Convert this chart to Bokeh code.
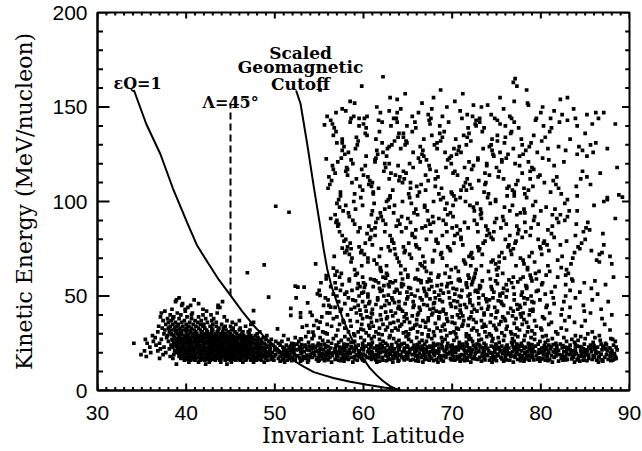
from bokeh.plotting import figure
from bokeh.models import Range1d, FixedTicker, Label
from bokeh.embed import file_html
from bokeh.resources import INLINE

# ---------------- data ----------------
x_ticks = [30, 40, 50, 60, 70, 80, 90]
y_ticks = [0, 50, 100, 150, 200]

# eps*Q = 1 curve (invariant latitude, kinetic energy)
epsq_lat = [34.1, 35.5, 37.1, 38.5, 40.1, 41.2, 42.4, 43.7, 45.0, 46.3, 47.6, 48.8, 49.9,
            51.0, 52.1, 53.3, 54.4, 55.6, 56.6, 58.5, 60.4, 62.3, 64.2]
epsq_E = [159, 141, 125, 107, 89, 77, 68, 58.5, 50.3, 42, 34.4, 28.5, 23.8,
          19.5, 15.9, 12.5, 9.7, 8.0, 6.6, 4.6, 3.0, 1.6, 0.3]

# scaled geomagnetic cutoff curve
cut_lat = [52.4, 52.9, 53.65, 54.4, 55.1, 55.5, 55.9, 56.4, 57.0, 57.7, 58.5, 59.2, 60.0,
           60.7, 61.5, 62.2, 63.0, 63.6, 64.2]
cut_E = [158.7, 151.7, 130.5, 107.6, 87.3, 75, 64.4, 55, 46.7, 37.5, 29.1, 22.5, 16.8,
         12.0, 8.0, 5.0, 2.3, 1.0, 0.3]

# Lambda = 45 deg marker line
lam_lat = [45.0, 45.0]
lam_E = [50.3, 152.0]

# low-latitude cluster: (energy, [latitudes])
core_rows = [
    (49, [39.2]), (48, [38.9, 40.9]), (47, [38.8, 44.1]), (46, [39.6, 41.4]),
    (45, [39.5, 40.5, 43.6]), (44, [40.2, 43.8]), (43, [38.4, 39.9, 41.9]),
    (42, [37.6, 39.9, 42.3]), (41, [37.2, 39.0, 40.7, 43.5]),
    (40, [38.2, 39.4, 40.6, 41.9, 42.8]), (39, [37.1, 38.6, 40.1, 41.4, 44.3]),
    (38, [37.9, 38.5, 39.2, 40.6, 42.2, 43.1]),
    (37, [37.4, 38.3, 39.8, 41.0, 41.7, 42.9, 44.6, 46.0]),
    (36, [38.0, 38.8, 39.5, 40.4, 41.3, 42.4, 43.4, 45.2]),
    (35, [37.7, 38.5, 39.1, 40.0, 40.8, 41.6, 42.0, 43.0, 44.0, 45.6, 47.3]),
    (34, [36.9, 38.2, 38.9, 39.6, 40.3, 41.1, 41.9, 42.7, 43.4, 44.4, 45.0, 46.7]),
    (33, [37.3, 38.0, 38.7, 39.3, 40.0, 40.6, 41.4, 42.1, 42.9, 43.7, 44.2, 45.3, 46.1]),
    (32, [37.6, 38.4, 39.0, 39.7, 40.2, 40.9, 41.6, 42.3, 43.0, 43.6, 44.5, 45.1, 46.0, 47.2]),
    (31, [36.8, 38.1, 38.8, 39.4, 40.0, 40.5, 41.1, 41.8, 42.4, 42.9, 43.5, 44.1, 44.8, 45.5,
          46.4, 47.0, 48.3]),
    (30, [37.5, 38.3, 39.0, 39.5, 40.1, 40.7, 41.2, 41.7, 42.2, 42.8, 43.3, 43.9, 44.4, 45.0,
          45.7, 46.3, 47.1, 48.0]),
    (29.5, [38.4, 39.4, 40.2, 41.0, 41.8, 42.6, 43.4, 44.2, 45.0, 46.2]),
    (29, [36.2, 37.9, 38.6, 39.2, 39.8, 40.3, 40.8, 41.4, 41.9, 42.5, 43.0, 43.6, 44.1, 44.7,
          45.2, 45.9, 46.5, 47.3, 47.8, 49.1]),
    (28.5, [39.2, 40.0, 40.8, 41.6, 42.3, 43.1, 43.8, 44.5, 45.3, 46.1, 46.9]),
    (28, [36.5, 37.8, 38.7, 39.3, 39.9, 40.4, 40.9, 41.3, 41.9, 42.3, 42.7, 43.2, 43.8, 44.3,
          44.6, 45.1, 45.6, 46.0, 46.6, 47.0, 47.5, 48.1, 48.7]),
    (27.5, [38.8, 39.6, 40.4, 41.2, 41.9, 42.7, 43.4, 44.2, 44.9, 45.7, 46.5, 47.4]),
    (27, [35.4, 37.2, 38.4, 39.1, 39.6, 40.1, 40.5, 41.0, 41.5, 41.8, 42.4, 42.9, 43.3, 43.7,
          44.2, 44.8, 45.2, 45.8, 46.2, 46.7, 47.3, 47.7, 48.4, 49.0, 49.6]),
    (26.5, [38.5, 39.5, 40.2, 41.0, 41.7, 42.5, 43.2, 44.0, 44.7, 45.5, 46.3, 47.1, 48.0]),
    (26, [36.3, 38.0, 38.9, 39.4, 39.9, 40.3, 40.7, 41.2, 41.6, 42.1, 42.5, 43.0, 43.5, 43.9,
          44.4, 44.9, 45.3, 45.7, 46.4, 46.9, 47.4, 47.9, 48.5, 49.3, 50.1]),
    (25.5, [39.0, 39.8, 40.6, 41.3, 42.1, 42.8, 43.6, 44.3, 45.1, 45.8, 46.6, 47.4, 48.5]),
    (25, [34.1, 35.6, 37.0, 38.6, 39.2, 39.7, 40.0, 40.5, 41.0, 41.3, 41.9, 42.3, 42.8, 43.2,
          43.7, 44.1, 44.6, 45.0, 45.5, 46.0, 46.5, 47.1, 47.6, 48.2, 48.8, 49.5, 50.4]),
    (24.5, [38.7, 39.6, 40.4, 41.1, 41.9, 42.6, 43.3, 44.1, 44.8, 45.6, 46.3, 47.0, 47.9]),
    (24, [36.6, 38.3, 39.0, 39.5, 40.2, 40.6, 41.1, 41.5, 42.0, 42.6, 43.0, 43.4, 43.9, 44.3,
          44.8, 45.3, 45.8, 46.2, 46.7, 47.2, 47.8, 48.4, 49.0, 49.8, 50.6, 51.3]),
    (23.5, [38.9, 39.7, 40.5, 41.3, 42.0, 42.8, 43.5, 44.2, 45.0, 45.7, 46.5, 47.3, 48.1, 49.4]),
    (23, [35.9, 37.5, 38.5, 39.3, 39.8, 40.3, 40.8, 41.3, 41.7, 42.2, 42.7, 43.1, 43.6, 44.0,
          44.5, 44.9, 45.4, 45.9, 46.3, 46.8, 47.4, 47.9, 48.6, 49.2, 50.0, 50.9, 51.7]),
    (22.5, [39.4, 40.2, 40.9, 41.6, 42.4, 43.1, 43.9, 44.6, 45.4, 46.1, 46.9, 47.6, 48.8]),
    (22, [37.1, 38.1, 39.0, 39.6, 40.1, 40.6, 41.0, 41.6, 42.1, 42.5, 43.0, 43.5, 43.9, 44.4,
          44.9, 45.3, 45.7, 46.2, 46.6, 47.1, 47.7, 48.3, 48.9, 49.5, 50.2, 51.1, 52.0]),
    (21.5, [39.1, 39.9, 40.6, 41.4, 42.1, 42.9, 43.5, 44.3, 45.0, 45.8, 46.5, 47.2, 48.3, 50.0]),
    (21, [35.3, 36.8, 38.7, 39.4, 39.9, 40.4, 40.9, 41.4, 41.8, 42.3, 42.8, 43.3, 43.7, 44.2,
          44.7, 45.1, 45.6, 46.1, 46.5, 47.0, 47.5, 48.0, 48.7, 49.4, 50.3, 51.0, 51.8]),
    (20.5, [39.3, 40.0, 40.9, 41.5, 42.4, 43.0, 43.8, 44.6, 45.3, 46.0, 46.8, 47.5, 48.2, 49.0]),
    (20, [36.0, 37.7, 38.9, 39.7, 40.2, 40.7, 41.2, 41.7, 42.2, 42.6, 43.1, 43.6, 44.0, 44.5,
          45.0, 45.4, 45.9, 46.4, 46.9, 47.3, 47.8, 48.5, 49.1, 49.7, 50.5, 51.4]),
    (19.5, [39.2, 40.1, 40.8, 41.6, 42.3, 43.0, 43.6, 44.4, 45.1, 45.9, 46.6, 47.4, 48.1, 49.2]),
    (19, [34.9, 37.4, 38.6, 39.5, 40.0, 40.5, 41.0, 41.5, 41.9, 42.4, 42.9, 43.4, 43.8, 44.3,
          44.8, 45.2, 45.7, 46.2, 46.7, 47.2, 47.6, 48.2, 48.8, 49.5, 50.1, 50.8, 51.6]),
    (18.5, [39.5, 40.3, 41.0, 41.8, 42.5, 43.2, 43.9, 44.5, 45.4, 46.1, 46.9, 47.6, 48.4, 49.5]),
    (18, [35.5, 38.2, 39.2, 39.9, 40.4, 40.8, 41.3, 41.8, 42.3, 42.7, 43.2, 43.7, 44.1, 44.6,
          45.1, 45.5, 46.0, 46.5, 47.0, 47.5, 48.0, 48.6, 49.2, 49.9, 50.6]),
    (17.5, [39.7, 40.4, 41.2, 41.9, 42.6, 43.4, 44.0, 44.7, 45.5, 46.2, 47.0, 47.7, 48.9]),
    (17, [37.0, 38.5, 39.4, 40.1, 40.6, 41.1, 41.6, 42.0, 42.5, 43.0, 43.5, 43.9, 44.4, 44.9,
          45.3, 45.8, 46.3, 46.8, 47.3, 47.9, 48.4, 49.0, 49.7, 50.4]),
    (16.5, [40.2, 40.9, 41.7, 42.4, 43.1, 43.9, 44.6, 45.2, 46.0, 46.8, 47.5, 48.3, 49.6]),
    (16, [39.8, 40.5, 41.0, 41.6, 42.1, 42.7, 43.3, 43.8, 44.4, 45.0, 45.6, 46.1, 46.7, 47.3,
          47.9, 48.5, 49.2]),
    (15, [40.3, 41.4, 42.6, 43.9, 45.1, 46.4, 47.6, 48.8]),
    (14, [38.9, 42.2, 44.6]),
]

# dense low-energy band at higher latitudes
band_rows = [
    (28.5, [53.5, 57.9, 61.2, 64.8, 67.3, 71.6, 73.9, 77.4, 80.2, 84.5]),
    (28, [52.3, 55.1, 59.7, 62.9, 66.0, 68.8, 70.5, 75.2, 78.9, 82.6, 86.1]),
    (27.5, [54.2, 56.6, 60.9, 63.4, 67.7, 72.1, 74.6, 76.8, 81.3, 85.0, 87.9]),
    (27, [51.5, 53.0, 58.3, 61.8, 65.1, 69.2, 71.9, 73.3, 79.3, 83.5, 88.1]),
    (26.5, [55.4, 57.5, 60.1, 64.0, 66.6, 70.2, 73.0, 75.8, 78.1, 80.8, 84.2, 86.7]),
    (26, [50.8, 52.7, 56.0, 59.0, 62.2, 65.4, 67.1, 68.9, 72.3, 74.5, 77.0, 79.9, 82.9, 88.4]),
    (25.5, [53.8, 57.2, 58.6, 61.0, 63.7, 66.3, 70.8, 71.6, 75.3, 76.7, 80.5, 83.8, 85.9]),
    (25, [51.9, 54.9, 56.4, 59.9, 62.5, 64.6, 67.9, 69.5, 73.6, 77.8, 78.6, 81.7, 87.3]),
    (24.5, [52.5, 55.6, 57.8, 60.6, 61.9, 64.3, 66.9, 68.4, 71.2, 72.8, 74.9, 77.3, 79.7, 82.2,
            84.9, 86.8]),
    (24.25, [53.0, 55.2, 58.2, 60.9, 63.2, 66.1, 68.8, 71.7, 73.0, 76.8, 79.0, 81.4, 83.9, 87.4]),
    (24, [53.4, 54.3, 56.9, 59.4, 62.7, 63.9, 65.7, 68.1, 70.0, 72.4, 73.8, 76.2, 78.8, 80.9,
          83.3, 85.6, 88.2]),
    (23.75, [52.2, 54.8, 57.0, 59.9, 62.1, 64.9, 67.9, 70.8, 73.1, 75.0, 77.6, 80.4, 82.5, 86.0]),
    (23.5, [51.8, 53.9, 55.8, 58.1, 60.3, 61.5, 64.1, 66.6, 67.5, 69.8, 71.6, 74.4, 75.6, 77.9,
            79.4, 81.8, 84.1, 87.0]),
    (23.25, [53.5, 56.0, 58.6, 61.7, 63.9, 66.2, 69.4, 71.2, 72.6, 76.1, 78.7, 81.2, 84.4, 87.1]),
    (23, [52.8, 54.6, 57.3, 59.1, 60.8, 63.2, 65.0, 67.2, 68.9, 70.5, 73.2, 74.7, 76.9, 78.3,
          80.6, 82.7, 85.4, 86.4, 88.5]),
    (22.75, [52.1, 55.7, 57.7, 60.0, 63.0, 65.6, 67.6, 70.2, 73.4, 75.3, 77.2, 80.3, 83.0, 84.6]),
    (22.5, [53.1, 55.2, 56.3, 58.7, 61.2, 62.4, 64.6, 66.0, 68.5, 70.9, 72.0, 73.7, 76.4, 79.1,
            80.1, 82.4, 83.9, 86.0, 87.7]),
    (22.25, [51.9, 54.3, 57.9, 59.2, 61.6, 64.0, 66.8, 68.9, 71.9, 74.0, 76.0, 78.1, 81.8, 85.6,
             87.8]),
    (22, [51.6, 54.1, 56.8, 57.6, 59.8, 62.0, 63.5, 65.4, 67.8, 69.4, 71.3, 72.7, 75.1, 77.5,
          78.7, 81.1, 83.1, 84.8, 87.3]),
    (21.75, [52.7, 55.1, 56.8, 60.6, 62.9, 65.2, 67.9, 70.5, 72.3, 74.8, 77.4, 80.7, 83.3, 86.1]),
    (21.5, [52.4, 53.6, 55.5, 58.4, 60.0, 61.7, 64.0, 66.4, 67.1, 69.9, 70.7, 73.5, 75.9, 77.0,
            79.8, 81.6, 82.9, 85.2, 86.9, 88.6]),
    (21.25, [51.3, 53.9, 57.3, 59.0, 61.5, 64.6, 66.0, 69.1, 71.4, 73.0, 75.5, 79.1, 82.0, 84.9,
             88.0]),
    (21, [52.9, 54.8, 56.1, 57.9, 59.5, 62.6, 63.3, 65.8, 68.3, 70.1, 71.8, 74.1, 76.1, 77.8,
          78.9, 80.4, 83.6, 84.5, 87.5]),
    (20.75, [52.0, 54.6, 56.0, 58.4, 60.9, 63.1, 65.8, 68.5, 70.0, 73.6, 76.2, 78.5, 80.2, 83.9,
             86.2]),
    (20.5, [51.2, 53.3, 55.0, 57.0, 58.9, 60.5, 62.3, 64.4, 66.8, 67.6, 69.2, 72.2, 73.0, 75.4,
            76.8, 79.3, 81.4, 82.6, 85.7, 88.0]),
    (20.25, [53.0, 55.8, 57.6, 59.5, 62.6, 64.8, 67.2, 69.7, 72.7, 75.9, 78.2, 81.6, 85.2]),
    (20, [52.1, 54.4, 56.6, 58.2, 61.0, 61.9, 63.8, 65.2, 68.0, 70.4, 71.5, 74.3, 74.8, 77.3,
          80.0, 80.9, 83.4, 84.9, 86.5]),
    (19.75, [51.4, 54.2, 56.3, 58.5, 61.7, 63.5, 65.8, 68.4, 71.6, 74.5, 76.6, 79.7, 82.9, 84.6,
             87.9]),
    (19.5, [53.0, 55.4, 57.4, 59.6, 60.7, 63.0, 64.9, 66.3, 67.9, 69.6, 72.6, 73.4, 75.7, 78.2,
            79.0, 81.8, 84.0, 86.2, 88.3]),
    (19.25, [52.2, 55.0, 57.0, 60.0, 62.9, 65.0, 66.9, 69.4, 72.1, 75.1, 77.2, 80.7, 83.8, 86.8]),
    (19, [51.7, 54.0, 55.9, 58.0, 59.2, 61.4, 64.2, 65.5, 67.4, 70.0, 71.1, 73.9, 76.3, 77.6,
          80.3, 82.1, 83.2, 85.1, 87.4]),
    (18.75, [51.1, 53.6, 55.7, 59.3, 61.1, 64.0, 66.7, 68.0, 70.9, 73.7, 76.0, 78.6, 82.4, 85.4,
             88.0]),
    (18.5, [52.6, 54.5, 56.5, 57.7, 60.2, 62.5, 63.6, 66.1, 68.6, 69.1, 71.9, 74.0, 75.2, 77.9,
            79.5, 81.2, 84.3, 85.9, 87.8]),
    (18.25, [52.4, 56.0, 58.2, 60.9, 63.3, 65.9, 69.0, 71.4, 73.4, 76.9, 79.0, 81.7, 83.6, 86.0]),
    (18, [51.3, 53.2, 55.3, 57.1, 59.0, 61.6, 62.8, 64.7, 67.0, 68.7, 70.6, 72.5, 74.6, 76.6,
          78.4, 80.7, 82.8, 84.6, 86.6, 88.4]),
    (17.75, [51.5, 53.9, 57.0, 59.5, 61.7, 64.3, 67.5, 70.2, 72.0, 74.9, 78.8, 80.6, 84.9, 87.9]),
    (17.5, [52.0, 54.2, 56.2, 58.6, 60.4, 62.1, 65.0, 66.5, 69.3, 70.8, 73.1, 75.5, 77.1, 79.1,
            81.5, 83.7, 86.0, 87.2]),
    (17.25, [52.8, 54.9, 58.0, 60.7, 63.8, 66.1, 68.5, 71.6, 74.4, 77.7, 79.8, 82.7, 86.5]),
    (17, [51.0, 53.5, 55.7, 57.5, 59.8, 61.2, 63.4, 64.5, 67.7, 69.8, 72.3, 73.6, 76.0, 78.0,
          80.2, 82.3, 84.2, 85.4, 88.5]),
    (16.75, [51.7, 55.4, 57.9, 59.0, 62.8, 64.9, 67.1, 70.6, 72.6, 75.6, 78.4, 80.1, 83.5, 88.3]),
    (16.5, [52.3, 54.7, 56.8, 58.3, 60.9, 63.0, 65.6, 66.9, 68.2, 71.2, 72.9, 74.7, 77.4, 79.6,
            81.0, 83.0, 85.8, 87.6]),
    (16.25, [50.9, 53.1, 56.0, 59.9, 61.4, 64.6, 68.8, 69.9, 73.7, 76.1, 79.2, 82.8, 84.1, 86.9]),
    (16, [49.9, 51.4, 53.8, 55.0, 57.2, 59.3, 62.2, 64.0, 65.3, 67.4, 70.3, 71.7, 74.2, 76.5,
          78.7, 80.5, 82.5, 84.8, 86.3, 88.1]),
    (15.75, [51.9, 55.6, 57.4, 62.6, 65.9, 67.9, 71.4, 75.0, 77.7, 80.8, 85.2, 87.9]),
    (15.5, [50.6, 52.9, 54.9, 57.8, 60.1, 61.8, 63.9, 66.2, 69.0, 70.9, 73.3, 75.8, 78.1, 79.9,
            82.0, 84.4, 87.0]),
    (15, [51.1, 53.7, 56.4, 58.8, 61.5, 63.3, 66.7, 68.4, 72.1, 74.5, 76.9, 81.3, 83.8, 86.5]),
]

# broad high-latitude cloud
cloud_rows = [
    (166, [62.2]), (165, [77.1]), (163, [76.9]), (161, [59.8, 77.3]),
    (159, [55.1, 68.7, 78.4]), (157, [64.7, 71.2]), (155, [63.0, 67.9, 75.4, 83.0]),
    (154, [63.8, 82.2]), (153, [58.5, 70.3, 77.0]), (152, [59.0, 66.6, 78.5]),
    (151, [72.4, 74.0, 78.6]), (150, [61.5, 69.4, 73.3, 80.2]),
    (149, [57.6, 64.2, 67.7, 75.8, 83.7]), (148, [58.0, 62.9, 70.9, 81.5]),
    (147, [56.9, 61.9, 63.8, 66.2, 80.0, 86.2, 87.1]),
    (146, [67.3, 71.7, 74.4, 82.4, 85.2]),
    (145, [55.9, 58.9, 60.4, 65.5, 68.9, 72.3, 76.5]),
    (144, [59.5, 63.4, 73.1, 76.7, 81.1, 83.9]),
    (131, [57.0, 57.6, 62.1, 64.9, 68.3, 75.9, 78.9, 86.2]),
    (124, [60.3, 62.6, 66.8, 69.9, 74.7, 77.6, 85.2]),
    (117, [56.6, 58.2, 59.8, 67.5, 72.2, 79.2]),
    (110, [58.7, 61.0, 64.4, 65.3, 71.5, 73.8, 80.4]),
    (103, [57.4, 63.0, 66.1, 70.2, 76.2, 77.0, 84.1]),
    (96, [59.1, 62.4, 65.9, 69.2, 73.2, 78.1, 81.6]),
    (143, [56.3, 61.7, 67.4, 72.7, 75.1, 79.4, 83.0]),
    (136, [60.2, 64.0, 64.5, 68.6, 71.9, 76.6, 85.0]),
    (129, [57.8, 62.9, 66.4, 70.8, 74.2, 78.7, 82.0, 84.3]),
    (122, [58.6, 61.3, 67.1, 69.5, 72.9, 75.6, 80.9]),
    (115, [56.8, 63.1, 64.8, 70.1, 73.7, 77.9, 86.7]),
    (108, [59.6, 60.9, 66.0, 68.1, 71.3, 76.4, 79.1, 84.0]),
    (101, [57.2, 62.8, 68.7, 70.4, 74.9, 83.0, 87.5]),
    (94, [58.3, 61.9, 63.4, 65.7, 69.8, 73.3, 77.7, 78.2]),
    (141, [56.5, 60.0, 67.5, 72.6, 75.4, 85.8, 88.4]),
    (134, [59.2, 63.9, 64.5, 68.9, 71.7, 76.0, 80.5]),
    (127, [57.6, 61.5, 66.7, 70.7, 74.5, 78.3, 82.8, 84.7]),
    (120, [58.8, 62.4, 62.9, 65.2, 69.9, 73.9, 77.1]),
    (113, [56.1, 60.5, 64.1, 68.4, 75.2, 79.7, 81.8, 85.2]),
    (106, [59.9, 63.3, 67.0, 71.0, 71.6, 76.8, 78.6]),
    (99, [57.0, 61.2, 65.4, 69.4, 72.8, 74.3, 82.7]),
    (92, [58.4, 62.0, 64.3, 67.8, 70.1, 75.7, 79.3, 83.0]),
    (139, [56.7, 60.3, 65.9, 71.8, 73.6, 77.5, 81.2]),
    (132, [59.4, 63.5, 64.8, 68.7, 72.1, 75.1, 80.1]),
    (125, [57.9, 61.6, 66.6, 70.5, 74.6, 76.3, 78.0, 84.1]),
    (118, [58.1, 62.5, 65.6, 69.3, 71.4, 75.0, 79.0, 88.6]),
    (111, [56.4, 60.7, 64.0, 67.3, 73.0, 77.4, 81.4]),
    (104, [59.0, 61.1, 65.1, 68.5, 70.0, 74.1, 78.2, 82.3]),
    (97, [57.3, 62.9, 66.9, 72.4, 75.9, 80.6]),
    (144, [58.6, 60.1, 63.7, 67.6, 71.1, 74.8, 79.5, 86.5]),
    (137, [56.9, 61.8, 65.5, 69.1, 73.4, 76.7, 81.0]),
    (130, [59.3, 63.2, 64.7, 68.0, 71.6, 74.4, 77.9, 85.6]),
    (123, [57.5, 61.4, 66.2, 69.7, 72.9, 76.1, 80.2]),
    (116, [58.0, 62.3, 64.5, 68.2, 70.3, 75.3, 78.8, 84.7]),
    (109, [56.2, 60.6, 66.5, 72.0, 73.7, 77.2, 81.7, 85.6]),
    (102, [59.7, 63.0, 65.2, 69.0, 70.9, 74.0, 78.4, 87.5]),
    (95, [57.7, 61.0, 67.2, 72.5, 76.5, 80.0, 83.2, 84.1]),
    (142, [58.5, 62.1, 63.8, 65.8, 69.6, 73.1, 77.0, 82.1]),
    (135, [56.6, 60.4, 67.7, 71.3, 75.1, 79.2]),
    (128, [59.1, 62.7, 64.2, 68.3, 70.2, 73.5, 76.9, 80.8, 87.5]),
    (121, [57.1, 61.3, 66.4, 71.9, 75.6, 78.6, 82.6]),
    (114, [58.2, 60.0, 63.6, 67.0, 70.6, 74.2, 79.9]),
    (107, [56.0, 61.7, 65.3, 68.8, 72.2, 76.2, 78.1, 82.0]),
    (100, [58.9, 62.6, 64.4, 67.9, 71.5, 74.9, 79.4, 87.1]),
    (93, [56.8, 60.9, 66.1, 69.5, 73.2, 77.3, 81.3, 82.2]),
    (140, [59.5, 63.1, 64.9, 68.6, 72.7, 76.0, 80.3, 84.1]),
    (133, [57.6, 61.4, 66.8, 70.4, 74.5, 77.8, 83.3]),
    (126, [58.3, 62.2, 65.6, 69.2, 71.0, 75.4, 79.6, 85.9]),
    (119, [56.5, 60.2, 63.9, 67.4, 72.4, 73.9, 77.6, 81.5]),
    (112, [59.2, 62.9, 64.6, 68.1, 71.7, 75.8, 78.8, 84.5]),
    (105, [57.4, 61.1, 66.3, 69.9, 73.6, 77.0, 81.1]),
    (98, [58.0, 59.9, 63.5, 66.9, 70.1, 72.0, 76.8, 79.1, 86.0]),
    (91, [56.3, 61.6, 65.0, 68.5, 73.3, 75.0, 81.8, 88.4]),
    (84, [57.3, 59.4, 62.4, 64.3, 67.6, 69.4, 72.9, 74.7, 78.3, 84.8]),
    (77, [61.0, 65.9, 71.2, 76.4, 80.7, 82.2, 87.1]),
    (70, [58.7, 60.5, 63.8, 65.4, 68.9, 72.3, 75.9, 77.7, 83.6]),
    (63, [57.0, 62.0, 67.1, 70.7, 74.1, 79.8, 81.0]),
    (86, [59.6, 61.3, 64.8, 66.6, 70.0, 71.8, 75.5, 78.9, 85.1]),
    (79, [57.8, 63.2, 68.2, 73.7, 77.2, 80.4, 82.9]),
    (72, [58.4, 60.1, 63.6, 65.2, 68.7, 72.1, 73.4, 76.7, 80.1, 86.6]),
    (65, [61.9, 66.9, 70.4, 75.2, 78.5, 82.3]),
    (88, [57.2, 59.0, 62.5, 64.1, 67.5, 69.3, 72.8, 76.1, 79.7, 84.0]),
    (81, [60.8, 65.8, 71.0, 74.4, 77.9, 81.5]),
    (74, [58.1, 59.8, 63.0, 64.7, 68.0, 69.8, 73.0, 76.6, 80.9, 85.7]),
    (67, [61.5, 66.4, 71.5, 74.9, 78.1, 83.4, 88.0]),
    (90, [57.0, 58.8, 62.2, 63.9, 67.3, 69.0, 72.5, 75.8, 79.2, 82.7]),
    (83, [60.4, 65.5, 70.6, 74.2, 77.4, 81.2, 87.0]),
    (76, [58.2, 59.5, 62.8, 64.5, 66.0, 69.5, 72.9, 76.3, 79.9, 84.2]),
    (69, [61.2, 67.8, 71.3, 74.6, 78.0, 81.9, 86.3]),
    (62, [57.5, 59.3, 62.6, 64.2, 67.6, 69.2, 72.6, 75.7, 79.4, 83.1]),
    (85, [60.9, 65.9, 70.9, 74.0, 77.5, 80.8, 85.5]),
    (78, [58.5, 60.2, 63.4, 65.1, 68.4, 70.2, 73.5, 77.1, 80.3, 84.6]),
    (71, [56.7, 61.8, 66.7, 71.9, 75.3, 78.7, 82.4, 87.8]),
    (64, [59.0, 61.9, 64.7, 66.1, 69.9, 72.7, 75.0, 78.5, 82.9]),
    (87, [57.1, 60.6, 63.7, 67.0, 70.5, 73.8, 77.3, 81.3]),
    (80, [58.0, 60.7, 63.2, 67.1, 68.2, 71.0, 74.6, 76.0, 79.7, 85.0]),
    (73, [57.9, 59.7, 64.6, 68.8, 72.2, 75.6, 79.0, 83.8, 86.9]),
    (66, [59.8, 62.6, 64.2, 66.6, 69.4, 72.1, 73.3, 77.2, 80.8]),
    (89, [56.9, 61.4, 65.3, 67.9, 71.4, 74.8, 78.2, 82.0, 85.3]),
    (82, [57.6, 61.3, 63.0, 65.5, 68.9, 70.3, 73.9, 76.5, 78.8, 83.9]),
    (75, [58.6, 62.0, 63.5, 66.3, 69.7, 73.1, 76.9, 80.0, 84.4]),
    (68, [58.6, 60.5, 64.0, 66.9, 67.8, 71.4, 74.4, 75.3, 79.3, 86.6]),
    (61, [56.8, 59.1, 62.7, 65.0, 68.5, 71.8, 75.1, 78.8, 80.6, 82.8]),
    (60, [57.3, 59.9, 62.2, 65.0, 68.4, 69.7, 72.5, 76.9, 78.0, 81.9, 88.2]),
    (59.5, [62.5, 65.9, 71.9, 78.9]),
    (59, [55.8, 58.4, 60.8, 64.4, 65.8, 67.4, 70.8, 72.4, 74.3, 77.7, 79.5, 83.5]),
    (58.5, [61.2, 66.2, 70.7, 76.4]),
    (58, [58.4, 61.4, 63.6, 66.5, 67.6, 70.9, 73.4, 74.9, 79.0, 83.6, 86.1]),
    (57.5, [63.0, 67.2, 72.3, 77.4]),
    (57, [55.2, 56.8, 60.0, 61.7, 63.3, 66.5, 69.9, 71.6, 76.7, 80.2, 84.9]),
    (56.5, [59.4, 64.3, 69.5, 75.1]),
    (56, [57.6, 60.2, 62.8, 64.5, 68.8, 71.6, 72.2, 76.1, 80.1, 82.8, 87.3]),
    (55.5, [62.3, 68.3, 73.1, 78.3]),
    (55, [56.3, 59.6, 61.1, 62.9, 64.3, 67.7, 69.4, 73.2, 74.4, 78.4, 81.6]),
    (54.5, [60.1, 65.1, 71.7, 76.9]),
    (54, [56.9, 59.3, 61.8, 65.3, 66.8, 70.1, 73.1, 75.8, 78.4, 85.7]),
    (53.5, [63.7, 67.4, 70.5, 74.5]),
    (53, [55.0, 57.4, 58.7, 62.1, 63.8, 66.1, 68.7, 71.1, 72.7, 76.2, 79.7, 83.3]),
    (52.5, [61.9, 66.9, 72.6, 79.5]),
    (52, [58.1, 60.0, 63.5, 64.9, 68.0, 69.6, 72.9, 74.7, 77.9, 81.2, 84.4]),
    (51.5, [59.8, 64.1, 69.0, 75.7]),
    (51, [56.6, 57.9, 60.5, 65.4, 67.1, 70.3, 72.0, 75.4, 77.0, 80.5, 86.4]),
    (50.5, [62.8, 68.5, 73.5, 77.8]),
    (50, [57.0, 59.5, 62.3, 65.8, 67.1, 70.8, 71.8, 75.4, 78.9, 82.8]),
    (49.5, [60.5, 65.0, 71.0, 76.1]),
    (49, [55.7, 58.3, 61.6, 63.2, 66.4, 68.1, 69.7, 73.0, 74.6, 78.1, 81.4, 83.9]),
    (48.5, [64.9, 67.5, 73.8, 78.5]),
    (48, [56.0, 58.8, 61.6, 63.3, 66.6, 68.6, 72.0, 74.2, 77.0, 79.9, 85.8]),
    (47.5, [59.1, 62.6, 70.2, 75.2]),
    (47, [57.2, 59.9, 60.7, 64.0, 65.6, 68.9, 70.6, 73.9, 75.5, 79.0, 82.6, 87.6]),
    (46.5, [63.5, 68.0, 72.0, 79.2]),
    (46, [57.9, 60.6, 62.9, 64.7, 67.9, 69.8, 73.0, 75.6, 78.2, 81.5]),
    (45.5, [61.4, 66.8, 71.4, 77.3]),
    (45, [55.5, 56.1, 59.4, 62.4, 65.7, 67.2, 70.9, 72.3, 75.8, 77.6, 80.7, 84.8]),
    (44.5, [60.2, 64.0, 69.9, 74.1]),
    (44, [56.8, 59.0, 62.0, 65.6, 66.3, 70.4, 71.6, 74.8, 77.7, 80.6, 83.3]),
    (43.5, [63.9, 67.9, 73.3, 76.6]),
    (43, [57.5, 58.6, 61.0, 64.2, 67.5, 69.0, 72.5, 74.0, 77.4, 79.1, 82.4, 86.8]),
    (42.5, [59.6, 66.4, 70.9, 78.8]),
    (42, [57.4, 60.3, 63.1, 64.4, 68.2, 69.0, 72.8, 75.1, 76.9, 79.1, 84.9]),
    (41.5, [62.5, 68.6, 72.2, 75.0]),
    (41, [56.2, 59.2, 60.9, 63.6, 66.2, 67.8, 71.0, 73.6, 76.3, 78.0, 81.0, 85.6]),
    (40.5, [61.0, 64.8, 69.3, 77.7]),
    (40, [58.2, 59.7, 61.9, 66.1, 67.7, 70.6, 73.6, 74.4, 78.7, 82.3, 88.0]),
    (39.5, [63.3, 65.5, 71.2, 76.8]),
    (39, [55.3, 57.0, 60.4, 62.7, 64.6, 68.5, 70.0, 72.1, 75.7, 77.8, 80.2, 83.2]),
    (38.5, [60.8, 67.3, 70.8, 74.9]),
    (38, [56.6, 59.9, 62.6, 64.9, 68.5, 69.4, 71.9, 75.9, 77.2, 80.4, 86.9]),
    (37.5, [62.0, 66.0, 72.4, 78.1]),
    (37, [54.7, 57.7, 58.5, 61.5, 63.9, 66.7, 67.3, 71.3, 73.3, 76.0, 79.3, 82.7, 85.0]),
    (36.5, [59.3, 64.6, 69.5, 75.5]),
    (36, [57.8, 60.9, 63.4, 65.2, 67.0, 70.0, 72.7, 74.3, 78.4, 81.2, 83.8]),
    (35.5, [63.0, 68.1, 70.3, 77.0]),
    (35, [55.9, 57.3, 59.8, 62.2, 64.3, 66.0, 69.1, 71.2, 73.6, 75.3, 77.9, 80.9, 87.2]),
    (34.5, [60.6, 65.8, 71.8, 74.7]),
    (34, [56.4, 58.6, 61.1, 64.1, 66.4, 68.9, 71.1, 73.8, 76.2, 79.5, 84.6]),
    (33.5, [62.7, 67.0, 73.4, 78.6]),
    (33, [54.9, 57.9, 60.7, 61.8, 63.6, 65.6, 68.3, 70.5, 72.4, 74.9, 77.3, 80.0, 82.3]),
    (32.5, [59.7, 65.3, 70.7, 76.1]),
    (32, [57.1, 60.0, 62.5, 63.9, 67.4, 69.2, 72.2, 75.0, 77.6, 80.1, 82.9, 87.8]),
    (31.5, [63.2, 68.7, 72.8, 79.0]),
    (31, [55.4, 58.3, 59.4, 61.4, 64.8, 66.1, 67.9, 70.2, 73.7, 76.6, 78.5, 81.7, 85.8]),
    (30.5, [60.3, 64.5, 69.8, 75.6]),
    (30, [55.9, 58.9, 61.7, 65.1, 66.6, 70.4, 71.6, 74.2, 76.7, 79.3, 81.9, 85.3]),
    (29.5, [62.1, 67.3, 73.0, 77.1]),
    (29, [54.4, 56.9, 59.0, 60.6, 63.0, 65.0, 68.0, 69.4, 71.9, 74.4, 75.9, 78.2, 80.6, 83.9, 86.6]),
]

# scattered points between the two populations and near the edges (latitude, energy)
stray_pts = [(50.1, 97.5), (51.6, 94.3), (46.9, 62.3), (48.8, 66.5), (43.6, 44.0), (47.6, 42.3),
             (47.6, 36.0), (50.3, 32.6), (51.0, 29.1), (51.8, 39.7), (52.9, 38.8), (54.0, 41.4),
             (53.6, 34.4), (54.3, 30.9), (52.9, 27.3), (52.1, 24.7), (52.3, 55.2), (52.6, 54.7),
             (52.4, 49.0), (51.8, 43.5), (54.6, 67.0), (54.8, 51.1), (49.3, 49.4), (55.8, 60.8),
             (53.3, 54.7), (55.1, 50.3), (56.6, 64.7), (57.6, 75.3), (53.7, 46.4), (52.9, 41.1),
             (54.2, 39.7), (55.1, 36.2), (55.9, 41.1), (56.3, 44.1), (53.1, 33.5), (53.8, 30.9),
             (54.4, 34.4), (55.7, 30.5), (89.2, 102.3), (88.8, 103.5), (55.6, 140.5),
             (55.8, 122.6)]

# annotation texts (latitude, energy, text)
notes_left = [(31.8, 162.4, "\u03b5Q=1"), (41.85, 152.4, "\u039b=45\u00b0")]
notes_center = [(52.9, 178.8, "Scaled"), (52.9, 170.9, "Geomagnetic"), (52.9, 162.4, "Cutoff")]

# ---------------- build point lists ----------------
pt_lat, pt_E = [], []
for rows in (core_rows, band_rows, cloud_rows):
    for e, lats in rows:
        for la in lats:
            pt_lat.append(la)
            pt_E.append(e)
for la, e in stray_pts:
    pt_lat.append(la)
    pt_E.append(e)

x_minor = [v for v in range(30, 91) if v % 10 != 0]
y_minor = [v for v in range(0, 201, 10) if v % 50 != 0]

# ---------------- figure ----------------
p = figure(width=642, height=451, output_backend="svg", toolbar_location=None,
           x_range=Range1d(30, 90), y_range=Range1d(0, 200),
           min_border_left=97, min_border_right=13, min_border_top=12, min_border_bottom=61,
           background_fill_color="white", border_fill_color="white")
p.xgrid.grid_line_color = None
p.ygrid.grid_line_color = None
p.outline_line_color = "black"
p.outline_line_width = 2

p.scatter(pt_lat, pt_E, marker="square", size=3.7, color="black", line_width=0)
p.line(epsq_lat, epsq_E, line_width=2, color="black")
p.line(cut_lat, cut_E, line_width=2, color="black")
p.line(lam_lat, lam_E, line_width=2, color="black", line_dash="7 4")

# inward tick marks on all four frame edges (lengths: pixels converted to data units)
px_x = 60.0 / 532.0   # degrees of latitude per pixel
px_y = 200.0 / 378.0  # MeV/nucleon per pixel


def ticks_x(vals, y_edge, length_px, down):
    d = -length_px * px_y if down else length_px * px_y
    p.segment(x0=vals, y0=[y_edge] * len(vals), x1=vals, y1=[y_edge + d] * len(vals),
              line_color="black", line_width=2)


def ticks_y(vals, x_edge, length_px, left):
    d = -length_px * px_x if left else length_px * px_x
    p.segment(x0=[x_edge] * len(vals), y0=vals, x1=[x_edge + d] * len(vals), y1=vals,
              line_color="black", line_width=2)


ticks_x(x_ticks, 0, 7, False)
ticks_x(x_minor, 0, 3.5, False)
ticks_x(x_ticks, 200, 6, True)
ticks_x(x_minor, 200, 3, True)
ticks_y(y_ticks, 30, 12, False)
ticks_y(y_minor, 30, 5.5, False)
ticks_y(y_ticks, 90, 7.5, True)
ticks_y(y_minor, 90, 4.3, True)

xa = p.xaxis[0]
ya = p.yaxis[0]
xa.ticker = FixedTicker(ticks=x_ticks, minor_ticks=x_minor)
ya.ticker = FixedTicker(ticks=y_ticks, minor_ticks=y_minor)

for ax in (xa, ya):
    ax.axis_line_width = 2
    ax.axis_line_color = "black"
    ax.major_tick_in = 0
    ax.major_tick_out = 0
    ax.minor_tick_in = 0
    ax.minor_tick_out = 0
    ax.major_label_text_font = "Liberation Sans"
    ax.major_label_text_font_size = "21px"
    ax.major_label_text_color = "black"
    ax.axis_label_text_font = "DejaVu Serif"
    ax.axis_label_text_font_size = "22px"
    ax.axis_label_text_font_style = "normal"
    ax.axis_label_text_color = "black"

xa.major_label_standoff = 15
ya.major_label_standoff = 10
xa.axis_label = "Invariant Latitude"
ya.axis_label = "Kinetic Energy (MeV/nucleon)"
xa.axis_label_standoff = 0
ya.axis_label_standoff = 12

for la, e, t in notes_left:
    p.add_layout(Label(x=la, y=e, text=t, text_font="DejaVu Serif", text_font_size="16px",
                       text_font_style="bold", text_align="left", text_baseline="alphabetic",
                       text_color="black"))
for la, e, t in notes_center:
    p.add_layout(Label(x=la, y=e, text=t, text_font="DejaVu Serif", text_font_size="17px",
                       text_font_style="bold", text_align="center", text_baseline="alphabetic",
                       text_color="black"))

open("out.html", "w").write(file_html(p, INLINE))
